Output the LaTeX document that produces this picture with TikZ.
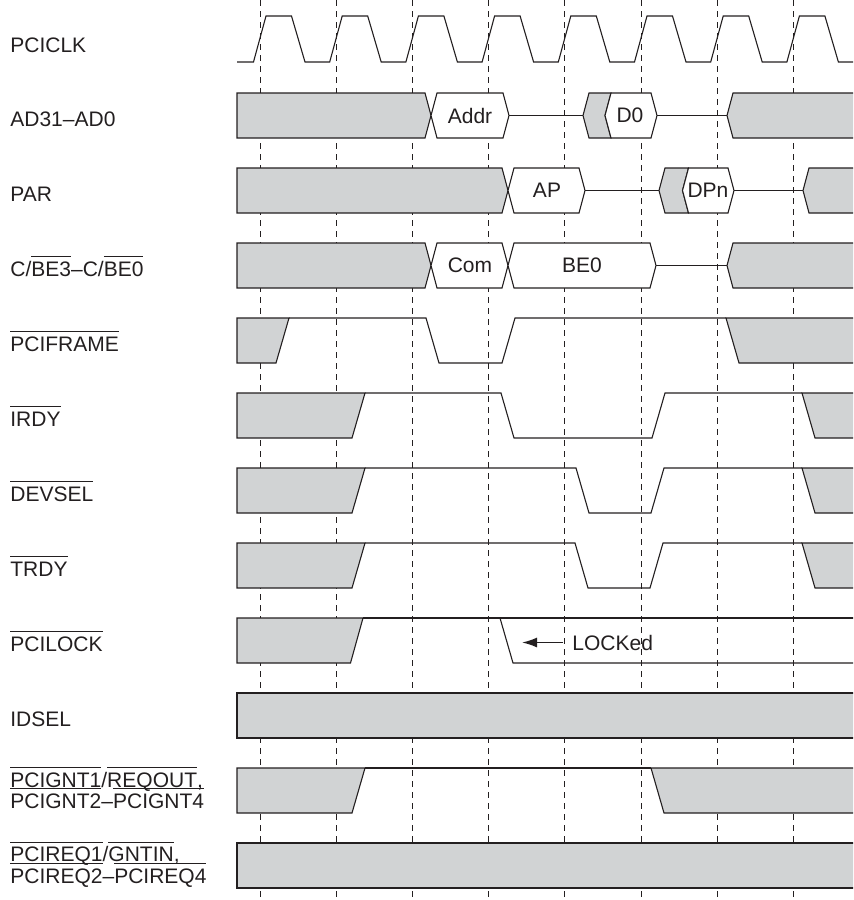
\documentclass[tikz,border=0pt]{standalone}
\usepackage{fontspec}
\setmainfont{Liberation Sans}
\usepackage{tikz}
\usetikzlibrary{arrows.meta}
\definecolor{inkdark}{HTML}{231F20}
\definecolor{busgray}{HTML}{D1D3D4}
\newsavebox\ovlbox
\newcommand{\ovl}[1]{\sbox\ovlbox{#1}\rlap{\smash{\rule[9.6pt]{\wd\ovlbox}{0.5pt}}}\usebox\ovlbox}

\begin{document}
\begin{tikzpicture}[x=0.5pt,y=-0.5pt,
  font=\fontsize{10.5}{12.6}\selectfont,
  wave/.style={draw=inkdark,line width=0.55pt},
  busfill/.style={wave,fill=busgray},
  hexbox/.style={wave,fill=white},
  tickline/.style={draw=inkdark,line width=0.5pt,dash pattern=on 3pt off 2.5pt},
  rowlabel/.style={anchor=base west,inner sep=0pt,text=inkdark},
  hexlabel/.style={inner sep=0pt,text=inkdark}]
  \useasboundingbox (0,0) rectangle (853,900);
  \clip (0,0) rectangle (853,900);

  % clock edges
  \draw[tickline] (260,0) -- (260,900);
  \draw[tickline] (336.2,0) -- (336.2,900);
  \draw[tickline] (412.4,0) -- (412.4,900);
  \draw[tickline] (488.6,0) -- (488.6,900);
  \draw[tickline] (564.8,0) -- (564.8,900);
  \draw[tickline] (641,0) -- (641,900);
  \draw[tickline] (717.2,0) -- (717.2,900);
  \draw[tickline] (793.4,0) -- (793.4,900);

  % row labels
  \node[rowlabel] (lblclk) at (10,52) {PCICLK};
  \node[rowlabel] (lblad) at (10,126) {AD31–AD0};
  \node[rowlabel] (lblpar) at (10,201.5) {PAR};
  \node[rowlabel] (lblcbe) at (10,276.5) {C/\ovl{BE3}–C/\ovl{BE0}};
  \node[rowlabel] (lblframe) at (10,351.5) {\ovl{PCIFRAME}};
  \node[rowlabel] (lblirdy) at (10,426.5) {\ovl{IRDY}};
  \node[rowlabel] (lbldevsel) at (10,501.5) {\ovl{DEVSEL}};
  \node[rowlabel] (lbltrdy) at (10,576.5) {\ovl{TRDY}};
  \node[rowlabel] (lbllock) at (10,651.5) {\ovl{PCILOCK}};
  \node[rowlabel] (lblidsel) at (10,726.5) {IDSEL};
  \node[rowlabel] (lblgnt) at (10,787) {\ovl{PCIGNT1}/\ovl{REQOUT},};
  \node[rowlabel] (lblgntb) at (10,808.3) {\ovl{PCIGNT2}–\ovl{PCIGNT4}};
  \node[rowlabel] (lblreq) at (10,861.7) {\ovl{PCIREQ1}/\ovl{GNTIN},};
  \node[rowlabel] (lblreqb) at (10,883) {\ovl{PCIREQ2}–\ovl{PCIREQ4}};

  % PCICLK
  \draw[wave] (237,62) -- (253.5,62) -- (266,16) -- (291.5,16) -- (305,62)
    -- (329.7,62) -- (342.2,16) -- (367.7,16) -- (381.2,62)
    -- (405.9,62) -- (418.4,16) -- (443.9,16) -- (457.4,62)
    -- (482.1,62) -- (494.6,16) -- (520.1,16) -- (533.6,62)
    -- (558.3,62) -- (570.8,16) -- (596.3,16) -- (609.8,62)
    -- (634.5,62) -- (647,16) -- (672.5,16) -- (686,62)
    -- (710.7,62) -- (723.2,16) -- (748.7,16) -- (762.2,62)
    -- (786.9,62) -- (799.4,16) -- (824.9,16) -- (838.4,62) -- (860,62);

  % AD31-AD0
  \filldraw[busfill] (237,93) -- (425,93) -- (431,115.5) -- (425,138) -- (237,138) -- cycle;
  \filldraw[hexbox] (431,115.5) -- (437,93) -- (503,93) -- (509,115.5) -- (503,138) -- (437,138) -- cycle;
  \node[hexlabel] (addr) at (470,115.5) {Addr};
  \draw[wave] (509,115.5) -- (583,115.5);
  \filldraw[busfill] (583,115.5) -- (589,93) -- (611,93) -- (605,115.5) -- (611,138) -- (589,138) -- cycle;
  \filldraw[hexbox] (605,115.5) -- (611,93) -- (651,93) -- (657,115.5) -- (651,138) -- (611,138) -- cycle;
  \node[hexlabel] (dzero) at (630,115.5) {D0};
  \draw[wave] (657,115.5) -- (727,115.5);
  \filldraw[busfill] (727,115.5) -- (733,93) -- (860,93) -- (860,138) -- (733,138) -- cycle;

  % PAR
  \filldraw[busfill] (237,168) -- (502,168) -- (508,190.5) -- (502,213) -- (237,213) -- cycle;
  \filldraw[hexbox] (508,190.5) -- (514,168) -- (579,168) -- (585,190.5) -- (579,213) -- (514,213) -- cycle;
  \node[hexlabel] (ap) at (547,190.5) {AP};
  \draw[wave] (585,190.5) -- (659,190.5);
  \filldraw[busfill] (659,190.5) -- (665,168) -- (688.5,168) -- (682.5,190.5) -- (688.5,213) -- (665,213) -- cycle;
  \filldraw[hexbox] (682.5,190.5) -- (688.5,168) -- (728,168) -- (734,190.5) -- (728,213) -- (688.5,213) -- cycle;
  \node[hexlabel] (dpn) at (708,190.5) {DPn};
  \draw[wave] (734,190.5) -- (803,190.5);
  \filldraw[busfill] (803,190.5) -- (809,168) -- (860,168) -- (860,213) -- (809,213) -- cycle;

  % C/BE
  \filldraw[busfill] (237,243) -- (425,243) -- (431,265.5) -- (425,288) -- (237,288) -- cycle;
  \filldraw[hexbox] (431,265.5) -- (437,243) -- (502,243) -- (508,265.5) -- (502,288) -- (437,288) -- cycle;
  \node[hexlabel] (com) at (470,265.5) {Com};
  \filldraw[hexbox] (508,265.5) -- (514,243) -- (650,243) -- (656,265.5) -- (650,288) -- (514,288) -- cycle;
  \node[hexlabel] (bezero) at (582,265.5) {BE0};
  \draw[wave] (656,265.5) -- (727,265.5);
  \filldraw[busfill] (727,265.5) -- (733,243) -- (860,243) -- (860,288) -- (733,288) -- cycle;

  % PCIFRAME
  \filldraw[busfill] (237,318) -- (289,318) -- (276,363) -- (237,363) -- cycle;
  \draw[wave] (289,318) -- (426,318) -- (439,363) -- (502,363) -- (515,318) -- (726,318);
  \filldraw[busfill] (726,318) -- (860,318) -- (860,363) -- (739,363) -- cycle;

  % IRDY
  \filldraw[busfill] (237,393) -- (365,393) -- (352,438) -- (237,438) -- cycle;
  \draw[wave] (365,393) -- (501,393) -- (514,438) -- (652,438) -- (665,393) -- (802,393);
  \filldraw[busfill] (802,393) -- (860,393) -- (860,438) -- (815,438) -- cycle;

  % DEVSEL
  \filldraw[busfill] (237,468) -- (365,468) -- (352,513) -- (237,513) -- cycle;
  \draw[wave] (365,468) -- (576,468) -- (589,513) -- (651,513) -- (664,468) -- (802,468);
  \filldraw[busfill] (802,468) -- (860,468) -- (860,513) -- (815,513) -- cycle;

  % TRDY
  \filldraw[busfill] (237,543) -- (365,543) -- (352,588) -- (237,588) -- cycle;
  \draw[wave] (365,543) -- (575,543) -- (588,588) -- (650,588) -- (663,543) -- (802,543);
  \filldraw[busfill] (802,543) -- (860,543) -- (860,588) -- (815,588) -- cycle;

  % PCILOCK
  \filldraw[busfill] (237,618) -- (363,618) -- (350.5,663) -- (237,663) -- cycle;
  \draw[wave] (363,618) -- (860,618);
  \draw[wave] (500,618) -- (513,663) -- (860,663);
  \node[rowlabel,anchor=west] (locked) at (572,642.5) {LOCKed};
  \coordinate (lockhead) at (522,642.5);
  \draw[wave,line width=0.8pt,-{Latex[length=7.5pt,width=5pt]},shorten <=4.5pt] (locked.west) -- (lockhead);

  % IDSEL
  \filldraw[busfill] (237,693) rectangle (860,738);

  % PCIGNT
  \filldraw[busfill] (237,768) -- (365,768) -- (352,813) -- (237,813) -- cycle;
  \draw[wave] (365,768) -- (651,768);
  \filldraw[busfill] (651,768) -- (860,768) -- (860,813) -- (664,813) -- cycle;

  % PCIREQ
  \filldraw[busfill] (237,843) rectangle (860,888);
\end{tikzpicture}
\end{document}
